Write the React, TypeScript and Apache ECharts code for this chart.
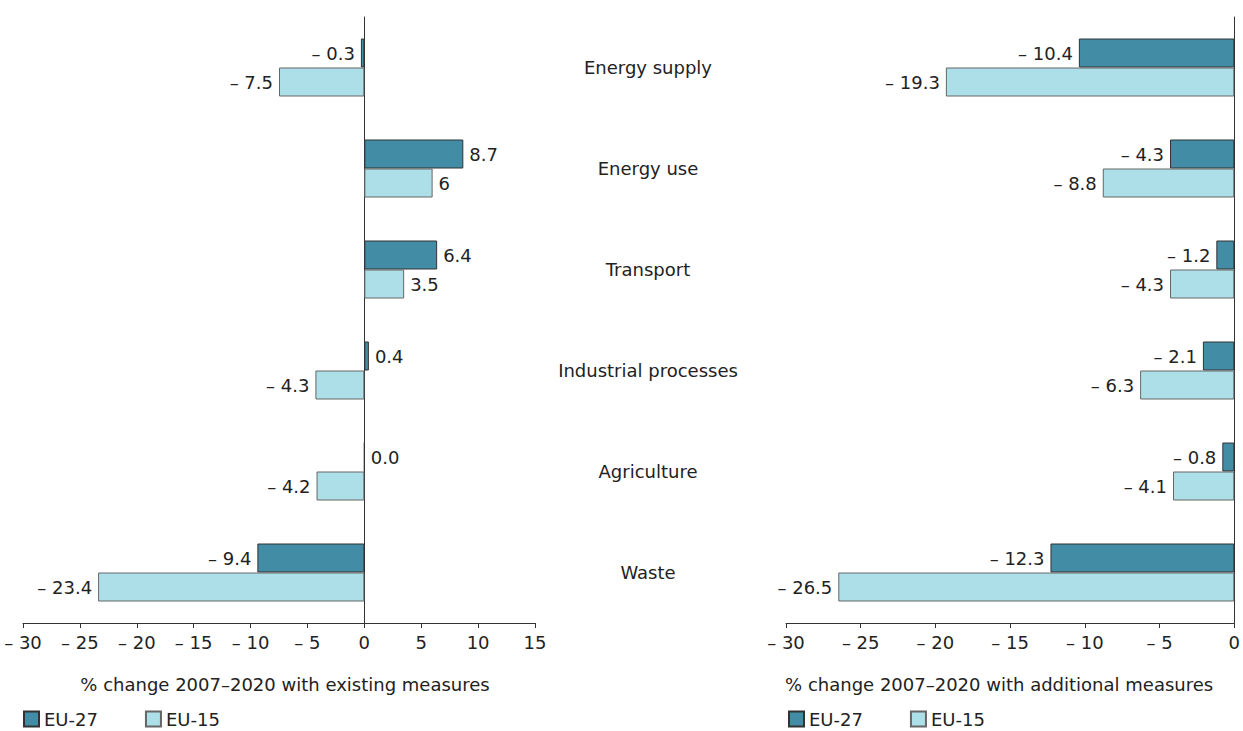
import React, { useEffect, useRef } from "react";
import * as echarts from "echarts";

// Sectors, top to bottom
const sectors = [
  "Energy supply",
  "Energy use",
  "Transport",
  "Industrial processes",
  "Agriculture",
  "Waste",
];

// % change 2007–2020, kept as printed text so labels keep their precision
const existingEU27 = ["-0.3", "8.7", "6.4", "0.4", "0.0", "-9.4"];
const existingEU15 = ["-7.5", "6", "3.5", "-4.3", "-4.2", "-23.4"];
const additionalEU27 = ["-10.4", "-4.3", "-1.2", "-2.1", "-0.8", "-12.3"];
const additionalEU15 = ["-19.3", "-8.8", "-4.3", "-6.3", "-4.1", "-26.5"];

const seriesNames = ["EU-27", "EU-15"];
const axisTitles = [
  "% change 2007–2020 with existing measures",
  "% change 2007–2020 with additional measures",
];

const DARK = "#428ca6";
const LIGHT = "#addfe8";
const TEXT = "#222222";
const FONT = "DejaVu Sans, Verdana, sans-serif";
const FS = 18;

const dashed = (s: string) => (s.startsWith("-") ? "– " + s.slice(1) : s);
const tickFmt = (v: number) => (v < 0 ? "– " + Math.abs(v) : String(v));

const toItems = (arr: string[]) =>
  arr.map((s) => {
    const v = Number(s);
    return {
      value: v,
      label: { formatter: dashed(s), position: v < 0 ? "left" : "right" },
    };
  });

const barSeries = (
  name: string,
  values: string[],
  axisIndex: number,
  color: string,
  border: string
) => ({
  name,
  type: "bar",
  xAxisIndex: axisIndex,
  yAxisIndex: axisIndex,
  data: toItems(values),
  barWidth: 29,
  barGap: "0%",
  itemStyle: { color, borderColor: border, borderWidth: 1 },
  label: {
    show: true,
    distance: 6,
    color: TEXT,
    fontSize: FS,
    fontFamily: FONT,
  },
});

const valueAxis = (
  gridIndex: number,
  min: number,
  max: number,
  title: string,
  pad: number[]
) => ({
  type: "value",
  gridIndex,
  min,
  max,
  interval: 5,
  splitLine: { show: false },
  axisLine: { show: true, lineStyle: { color: "#333", width: 1 } },
  axisTick: { show: true, length: 5, lineStyle: { color: "#333" } },
  axisLabel: {
    color: TEXT,
    fontSize: FS,
    fontFamily: FONT,
    margin: 10,
    formatter: tickFmt,
  },
  name: title,
  nameLocation: "middle",
  nameGap: 52,
  nameTextStyle: { color: TEXT, fontSize: FS, fontFamily: FONT, padding: pad },
});

const categoryAxis = (gridIndex: number) => ({
  type: "category",
  gridIndex,
  data: sectors,
  inverse: true,
  axisLine: { show: true, onZero: true, lineStyle: { color: "#333", width: 1 } },
  axisTick: { show: false },
  axisLabel: { show: false },
});

const legendAt = (left: number) => ({
  left,
  top: 710,
  padding: 0,
  itemWidth: 15,
  itemHeight: 15,
  itemGap: 47,
  icon: "rect",
  data: seriesNames,
  textStyle: { color: TEXT, fontSize: FS, fontFamily: FONT },
});

export default function App() {
  const ref = useRef<HTMLDivElement>(null);

  useEffect(() => {
    if (!ref.current) return;
    const chart = echarts.init(ref.current, undefined, { renderer: "svg" });
    chart.setOption({
      animation: false,
      textStyle: { fontFamily: FONT },
      grid: [
        { left: 23, right: 708, top: 17, bottom: 108 },
        { left: 786, right: 7, top: 17, bottom: 108 },
        { left: 648, right: 594, top: 17, bottom: 108 },
      ],
      xAxis: [
        valueAxis(0, -30, 15, axisTitles[0], [0, 0, 0, 12]),
        valueAxis(1, -30, 0, axisTitles[1], [0, 22, 0, 0]),
        { type: "value", gridIndex: 2, min: 0, max: 1, show: false },
      ],
      yAxis: [
        categoryAxis(0),
        categoryAxis(1),
        {
          type: "category",
          gridIndex: 2,
          data: sectors,
          inverse: true,
          axisLine: { show: false },
          axisTick: { show: false },
          axisLabel: {
            align: "center",
            margin: 0,
            color: TEXT,
            fontSize: FS,
            fontFamily: FONT,
          },
        },
      ],
      legend: [legendAt(23), legendAt(788)],
      series: [
        barSeries(seriesNames[0], existingEU27, 0, DARK, "#333333"),
        barSeries(seriesNames[1], existingEU15, 0, LIGHT, "#666666"),
        barSeries(seriesNames[0], additionalEU27, 1, DARK, "#333333"),
        barSeries(seriesNames[1], additionalEU15, 1, LIGHT, "#666666"),
      ],
    });
    return () => chart.dispose();
  }, []);

  return (
    <div
      ref={ref}
      style={{ position: "absolute", left: 0, top: 0, width: 1243, height: 731 }}
    />
  );
}
